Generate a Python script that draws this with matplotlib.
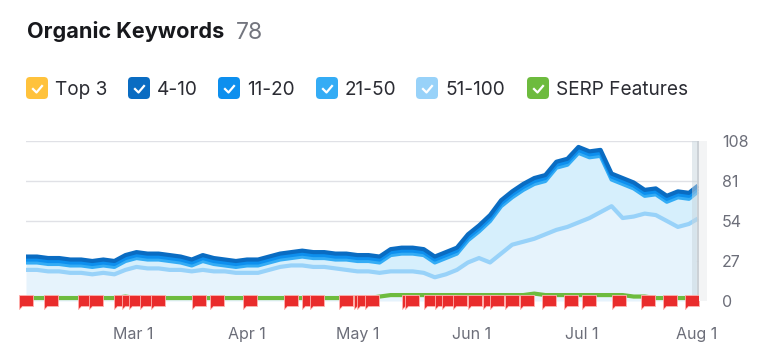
import numpy as np
import pandas as pd
import matplotlib
matplotlib.use("Agg")
import matplotlib.pyplot as plt
from matplotlib.path import Path
from matplotlib.patches import FancyBboxPatch
from matplotlib.transforms import IdentityTransform

plt.rcParams['font.family'] = ['Inter', 'DejaVu Sans']

start = pd.Timestamp("2023-01-31")
day_offsets = list(range(0, 181, 3)) + [182]

top_4_10 = [30,30,29,29,28,28,27,28,27,31,33,32,32,31,30,28,31,29,28,27,28,28,30,32,33,34,33,33,32,32,31,31,30,35,36,36,35,30,33,36,45,51,58,68,74,79,83,85,94,96,104,101,102,86,83,80,75,76,71,74,73,77]
line_11_20 = [28,28,27,27,26,26,25,26,25,29,31,30,30,29,28,26,29,27,26,25,26,26,28,30,31,32,31,31,30,30,29,29,28,33,34,34,33,28,31,34,43,49,56,66,72,77,81,83,92,94,102,99,100,84,81,78,73,74,69,72,71,75]
line_21_50 = [26,26,25,25,24,24,23,24,23,27,29,28,28,27,26,24,27,25,24,23,24,24,26,28,29,30,29,29,28,28,27,27,26,31,32,32,31,26,29,32,41,47,54,64,70,75,79,81,90,92,100,97,98,82,79,76,71,72,67,70,69,73]
line_51_100 = [21,21,20,20,19,19,18,19,18,21,23,22,22,21,21,20,21,20,20,19,19,19,21,23,24,24,23,23,22,21,20,20,19,20,20,20,19,16,18,21,26,29,26,32,38,40,42,45,48,50,53,56,60,64,56,57,59,58,54,50,52,55]
line_serp = [2,2,2,2,2,2,2,2,2,3,2,2,2,2,2,2,2,2,2,2,2,2,2,2,2,2,2,2,2,2,2,2,3,4,4,4,4,4,4,4,4,4,4,4,4,4,5,4,4,4,4,4,4,4,4,3,3,2,2,2,2,2]
yticks = [0, 27, 54, 81, 108]
tick_dates = ["2023-03-01", "2023-04-01", "2023-05-01", "2023-06-01", "2023-07-01", "2023-08-01"]
tick_labels = ["Mar 1", "Apr 1", "May 1", "Jun 1", "Jul 1", "Aug 1"]
flag_offsets = [-2,5,14,17,24,26,28,31,34,45,50,59,70,75,77,85,89,90,92,102,103,108,111,113,116,120,124,126,130,134,140,146,151,159,167,173,179]
legend_names = ["Top 3", "4-10", "11-20", "21-50", "51-100", "SERP Features"]
legend_colors = ["#FFC23C", "#0A6CC2", "#0D8FEE", "#34ACF5", "#98D2F9", "#6DBB3E"]
legend_x = [26, 128, 218, 316, 416, 527]

W, H = 775, 363
fig = plt.figure(figsize=(W/100, H/100), dpi=100, facecolor="white")
L, R, T, B = 26, 699, 141, 301
ax = fig.add_axes([L/W, 1-B/H, (R-L)/W, (B-T)/H])
PXD = 3.683
x = np.array([start + pd.Timedelta(days=d) for d in day_offsets])
ax.set_xlim(start, start + pd.Timedelta(days=(R-L)/PXD))
ax.set_ylim(0, 108)

ax.fill_between(x, 0, line_51_100, color="#E6F3FC", lw=0, zorder=1)
ax.fill_between(x, line_51_100, top_4_10, color="#D6EFFC", lw=0, zorder=1)

ax.plot(x, line_51_100, color="#98D2F9", lw=3.0, zorder=3, solid_joinstyle="round")
ax.plot(x, line_21_50, color="#34ACF5", lw=3.0, zorder=4, solid_joinstyle="round")
ax.plot(x, line_11_20, color="#0D8FEE", lw=3.0, zorder=5, solid_joinstyle="round")
ax.plot(x, top_4_10, color="#0A6CC2", lw=3.0, zorder=6, solid_joinstyle="round")
ax.plot(x, line_serp, color="#6DBB3E", lw=3.0, zorder=6, clip_on=False)

for s in ax.spines.values():
    s.set_visible(False)
ax.set_yticks(yticks)
ax.yaxis.tick_right()
ax.grid(axis="y", color="#E0E1E6", lw=1, zorder=0)
ax.tick_params(length=0)
ax.set_axisbelow(True)
ax.set_yticklabels([str(v) for v in yticks], fontsize=11.5, color="#6C6E79")
ax.tick_params(axis="y", pad=16.5)
ax.set_xticks(pd.to_datetime(tick_dates))
ax.set_xticklabels(tick_labels, fontsize=11.5, color="#6C6E79")
ax.tick_params(axis="x", pad=18.5)

# end-of-range band
ax.axvspan(start + pd.Timedelta(days=(692-L)/PXD), start + pd.Timedelta(days=(R-L)/PXD),
           color="#C9D6DE", alpha=0.5, lw=0, zorder=7)
ax.axvline(start + pd.Timedelta(days=(R-0.7-L)/PXD), color="#C8CDD2", lw=1.2, zorder=7)
fig.patches.append(plt.Rectangle((R/W, 1-B/H), 8/W, (B-T)/H, transform=fig.transFigure,
                                 facecolor="#F3F4F5", edgecolor="none"))

# flags
flag = Path([(0,0),(0,14),(14,14),(14,2.6),(2.5,2.6),(0,0)], closed=True)
flag_x = [start + pd.Timedelta(days=d) for d in flag_offsets]
ax.plot(flag_x, [-8/(B-T)]*len(flag_x), ls="none", marker=flag, ms=20.16,
        mfc="#E92C2C", mec="#FFB3B0", mew=0.6,
        transform=ax.get_xaxis_transform(), clip_on=False, zorder=10)

def px(xp, yp):
    return xp/W, 1-yp/H
fig.text(*px(27, 32), "Organic Keywords", fontsize=15.6, fontweight="bold", color="#17181C", va="center")
fig.text(*px(236, 33), "78", fontsize=16.5, color="#73757E", va="center")

for name, col, lx in zip(legend_names, legend_colors, legend_x):
    box = FancyBboxPatch((lx+2, H-99+2), 18, 18, boxstyle="round,pad=2,rounding_size=4",
                         facecolor=col, edgecolor="none", transform=IdentityTransform())
    fig.patches.append(box)
    fig.lines.append(plt.Line2D([lx+7, lx+10.5, lx+16], [H-89, H-92.5, H-86], color="white", lw=1.6,
                                transform=IdentityTransform()))
    fig.text(*px(lx+29, 90), name, fontsize=13.7, color="#2B2C33", va="center")

fig.savefig("out.png", dpi=100)
